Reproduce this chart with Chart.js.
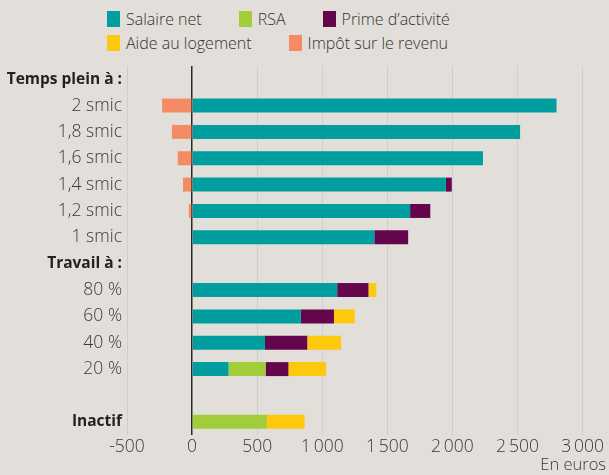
<!DOCTYPE html>
<html><head><meta charset="utf-8">
<script src="https://cdn.jsdelivr.net/npm/chart.js@4"></script>
<style>
html,body{margin:0;padding:0;background:#E2DED9;}
#wrap{position:relative;width:609px;height:475px;overflow:hidden;}
#legend{position:absolute;left:107px;top:7px;font-family:'Open Sans';font-weight:300;font-size:16px;color:#333;}
.row{display:flex;gap:37px;height:24px;align-items:center;}
.item{display:flex;align-items:center;white-space:nowrap;}
.sw{width:13px;height:16px;margin-right:6px;flex:none;}
canvas{position:absolute;left:0;top:0;}
</style></head>
<body><div id="wrap"><div id="legend"></div><canvas id="c" width="609" height="475"></canvas></div>
<script>
const categories = ['Temps plein à :', '2 smic', '1,8 smic', '1,6 smic', '1,4 smic', '1,2 smic', '1 smic', 'Travail à :', '80 %', '60 %', '40 %', '20 %', '', 'Inactif'];
const boldCategories = ['Temps plein à :', 'Travail à :', 'Inactif'];
const salaireNet = [null, 2800, 2520, 2235, 1950, 1675, 1400, null, 1115, 835, 560, 280, null, 0];
const rsa        = [null, 0, 0, 0, 0, 0, 0, null, 0, 0, 0, 285, null, 575];
const prime      = [null, 0, 0, 0, 45, 155, 260, null, 240, 255, 325, 175, null, 0];
const aide       = [null, 0, 0, 0, 0, 0, 0, null, 60, 160, 260, 290, null, 290];
const impot      = [null, -230, -155, -110, -70, -25, 0, null, 0, 0, 0, 0, null, 0];
const xTickValues = [-500, 0, 500, 1000, 1500, 2000, 2500, 3000];
const xTickLabels = ['-500', '0', '500', '1\u2009000', '1\u2009500', '2\u2009000', '2\u2009500', '3\u2009000'];
const seriesNames = ['Salaire net', 'RSA', 'Prime d\u2019activité', 'Aide au logement', 'Impôt sur le revenu'];
const seriesColors = ['#009E9F', '#A2CD3A', '#64064C', '#FEC90D', '#F58B65'];
const legendRows = [[0, 1, 2], [3, 4]];

const seriesData = [salaireNet, rsa, prime, aide, impot];
const FONT = "'Open Sans', 'DejaVu Sans', sans-serif";

const chart = new Chart(document.getElementById('c'), {
  type: 'bar',
  data: {
    labels: categories,
    datasets: seriesData.map((d, i) => ({
      label: seriesNames[i],
      data: d,
      backgroundColor: seriesColors[i],
      borderWidth: 0,
      barPercentage: 0.53,
      categoryPercentage: 1
    }))
  },
  options: {
    indexAxis: 'y',
    responsive: false,
    devicePixelRatio: 1,
    animation: false,
    layout: { padding: { top: 66, right: 3, left: 0, bottom: 0 } },
    plugins: { legend: { display: false }, tooltip: { enabled: false } },
    scales: {
      y: {
        type: 'category',
        stacked: true,
        offset: true,
        grid: { display: false, drawTicks: false, tickLength: 0 },
        border: { display: false },
        ticks: {
          padding: 5,
          color: ctx => boldCategories.includes(categories[ctx.index]) ? '#222' : '#3a3a3a',
          font: ctx => boldCategories.includes(categories[ctx.index])
            ? { family: FONT, size: 15.5, weight: 700 }
            : { family: FONT, size: 17.5, weight: 300 }
        },
        afterFit: s => { s.width = 127; }
      },
      x: {
        type: 'linear',
        stacked: true,
        min: -500,
        max: 3180,
        afterBuildTicks: s => { s.ticks = xTickValues.map(v => ({ value: v })); },
        ticks: {
          padding: 2,
          color: '#3a3a3a',
          font: { family: FONT, size: 17.5, weight: 300 },
          callback: (v, i) => xTickLabels[i]
        },
        grid: {
          drawTicks: false,
          color: ctx => (ctx.tick && ctx.tick.value === 0) ? '#2a2a2a' : '#D0CECB',
          lineWidth: ctx => (ctx.tick && ctx.tick.value === 0) ? 1.5 : 1
        },
        border: { display: false },
        title: {
          display: true,
          text: 'En euros',
          align: 'end',
          color: '#3a3a3a',
          font: { family: FONT, size: 16.5, weight: 300 },
          padding: 0
        },
        afterFit: s => { s.height = 40; }
      }
    }
  }
});

const legendEl = document.getElementById('legend');
legendRows.forEach(row => {
  const r = document.createElement('div');
  r.className = 'row';
  row.forEach(i => {
    const ds = chart.data.datasets[i];
    const it = document.createElement('div');
    it.className = 'item';
    const sw = document.createElement('span');
    sw.className = 'sw';
    sw.style.background = ds.backgroundColor;
    const t = document.createElement('span');
    t.textContent = ds.label;
    it.appendChild(sw); it.appendChild(t);
    r.appendChild(it);
  });
  legendEl.appendChild(r);
});
</script>
</body></html>
